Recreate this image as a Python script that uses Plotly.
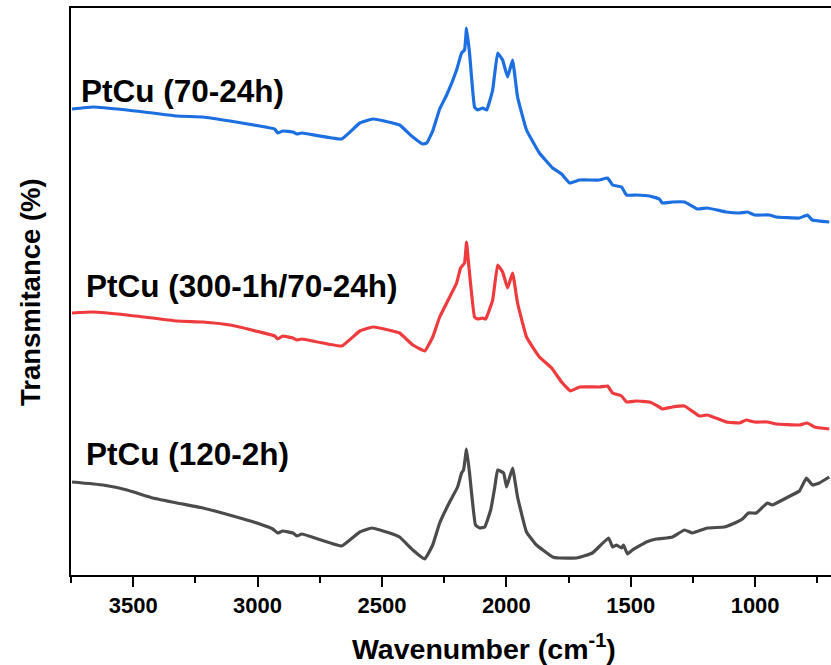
import plotly.graph_objects as go

# ---- data (wavenumber in cm^-1, transmittance in arbitrary offset units) ----
wn_blue = [3746, 3662, 3525, 3324, 3220, 3111, 2991, 2931, 2919, 2899, 2858, 2842, 2822,
           2662, 2589, 2537, 2457, 2429, 2376, 2336, 2320, 2296, 2268, 2240, 2200, 2180,
           2168, 2160, 2148, 2128, 2116, 2095, 2079, 2055, 2035, 2015, 1995, 1975, 1955,
           1919, 1867, 1814, 1778, 1746, 1706, 1626, 1593, 1573, 1537, 1517, 1477, 1425,
           1385, 1373, 1332, 1284, 1232, 1192, 1116, 1063, 1031, 1003, 943, 915, 822, 790,
           770, 702]
t_blue = [466, 468, 465, 459, 458, 454, 449, 446, 442, 444, 443, 441, 442,
          436, 452, 456, 452, 450, 438, 431, 432, 444, 466, 480, 505, 522,
          525, 547, 522, 468, 465, 467, 465, 485, 522, 515, 498, 515, 478,
          445, 422, 407, 401, 392, 395, 395, 397, 390, 388, 380, 380, 379,
          376, 372, 373, 373, 366, 367, 363, 362, 363, 360, 360, 358, 357, 360,
          355, 353]

wn_red = [3746, 3662, 3525, 3324, 3220, 3111, 2991, 2931, 2919, 2899, 2858, 2842, 2822,
          2662, 2589, 2537, 2457, 2429, 2376, 2328, 2296, 2268, 2240, 2200, 2184, 2168,
          2160, 2152, 2128, 2116, 2095, 2083, 2055, 2035, 2015, 1995, 1975, 1955, 1919,
          1867, 1818, 1778, 1742, 1706, 1626, 1593, 1573, 1537, 1517, 1477, 1425, 1385,
          1373, 1332, 1284, 1224, 1192, 1116, 1063, 1035, 1003, 951, 915, 822, 790,
          762, 702]
t_red = [262, 263, 260, 254, 253, 250, 243, 239, 236, 239, 237, 235, 236,
         229, 244, 248, 244, 242, 230, 224, 238, 258, 272, 292, 307, 312,
         333, 312, 258, 256, 257, 256, 275, 310, 303, 287, 302, 272, 238,
         218, 207, 193, 184, 188, 188, 189, 182, 179, 173, 174, 173, 168,
         166, 168, 169, 159, 160, 153, 152, 155, 153, 153, 151, 150, 152,
         148, 146]

wn_gray = [3746, 3621, 3525, 3421, 3324, 3220, 3099, 2991, 2939, 2919, 2899, 2858, 2842,
           2822, 2662, 2589, 2541, 2469, 2429, 2376, 2328, 2296, 2268, 2228, 2196, 2180,
           2172, 2160, 2148, 2124, 2107, 2087, 2063, 2047, 2035, 2011, 1999, 1975, 1955,
           1919, 1879, 1814, 1786, 1718, 1654, 1589, 1573, 1557, 1537, 1529, 1513, 1493,
           1437, 1397, 1356, 1332, 1284, 1252, 1192, 1124, 1091, 1051, 1027, 995, 951,
           931, 875, 822, 794, 770, 742, 702]
t_gray = [93, 90, 85, 77, 72, 67, 59, 51, 46, 42, 44, 42, 39,
          41, 29, 43, 47, 42, 38, 25, 16, 30, 52, 73, 88, 102,
          105, 126, 102, 50, 47, 48, 65, 87, 105, 102, 88, 107, 78,
          43, 30, 18, 17, 17, 22, 37, 28, 30, 27, 30, 21, 25,
          33, 36, 37, 38, 45, 42, 47, 48, 51, 56, 62, 62, 72,
          70, 77, 84, 97, 90, 92, 98]

labels = ["PtCu (70-24h)", "PtCu (300-1h/70-24h)", "PtCu (120-2h)"]
x_ticks = [3500, 3000, 2500, 2000, 1500, 1000]

# ---- figure ----
W, H = 831, 665
ML, MR, MT, MB = 71, 0, 8, 90
PW, PH = W - ML - MR, H - MT - MB

def px2paper(px, py):
    return (px - ML) / PW, (MT + PH - py) / PH

fig = go.Figure()
for wn, t, col in [(wn_gray, t_gray, "#4b4b4b"), (wn_red, t_red, "#ef3b3e"), (wn_blue, t_blue, "#1c6fe0")]:
    fig.add_trace(go.Scatter(x=wn, y=t, mode="lines", line=dict(color=col, width=3.2, shape="spline", smoothing=0.3),
                             showlegend=False, hoverinfo="skip"))

font_fam = "Liberation Sans, Arial, sans-serif"
label_pos = [(79, 91), (84, 286), (84, 454)]
for txt, (px, py) in zip(labels, label_pos):
    xp, yp = px2paper(px, py)
    fig.add_annotation(x=xp, y=yp, xref="paper", yref="paper", text="<b>%s</b>" % txt,
                       showarrow=False, xanchor="left", yanchor="middle",
                       font=dict(family=font_fam, size=31.5, color="black"))

xp, yp = px2paper(484, 647)
fig.add_annotation(x=xp, y=yp, xref="paper", yref="paper", text="<b>Wavenumber (cm<sup>-1</sup>)</b>",
                   showarrow=False, xanchor="center", yanchor="middle",
                   font=dict(family=font_fam, size=28.5, color="black"))
xp, yp = px2paper(30, 292)
fig.add_annotation(x=xp, y=yp, xref="paper", yref="paper", text="<b>Transmitance (%)</b>",
                   showarrow=False, xanchor="center", yanchor="middle", textangle=-90,
                   font=dict(family=font_fam, size=27.5, color="black"))

fig.update_layout(
    width=W, height=H, margin=dict(l=ML, r=MR, t=MT, b=MB),
    paper_bgcolor="white", plot_bgcolor="white",
    xaxis=dict(range=[3750, 695], tickvals=x_ticks, ticktext=[str(v) for v in x_ticks],
               ticks="outside", ticklen=10, tickwidth=2, tickcolor="black",
               minor=dict(tickvals=[3750, 3250, 2750, 2250, 1750, 1250, 750], ticks="outside", ticklen=6,
                          tickwidth=2, tickcolor="black"),
               showline=True, linewidth=2, linecolor="black", mirror=True,
               showgrid=False, zeroline=False,
               tickfont=dict(family=font_fam, size=22, color="black", weight="bold")),
    yaxis=dict(range=[0, PH], showticklabels=False, ticks="", showline=True, linewidth=2,
               linecolor="black", showgrid=False, zeroline=False),
)

fig.write_html("out.html")
